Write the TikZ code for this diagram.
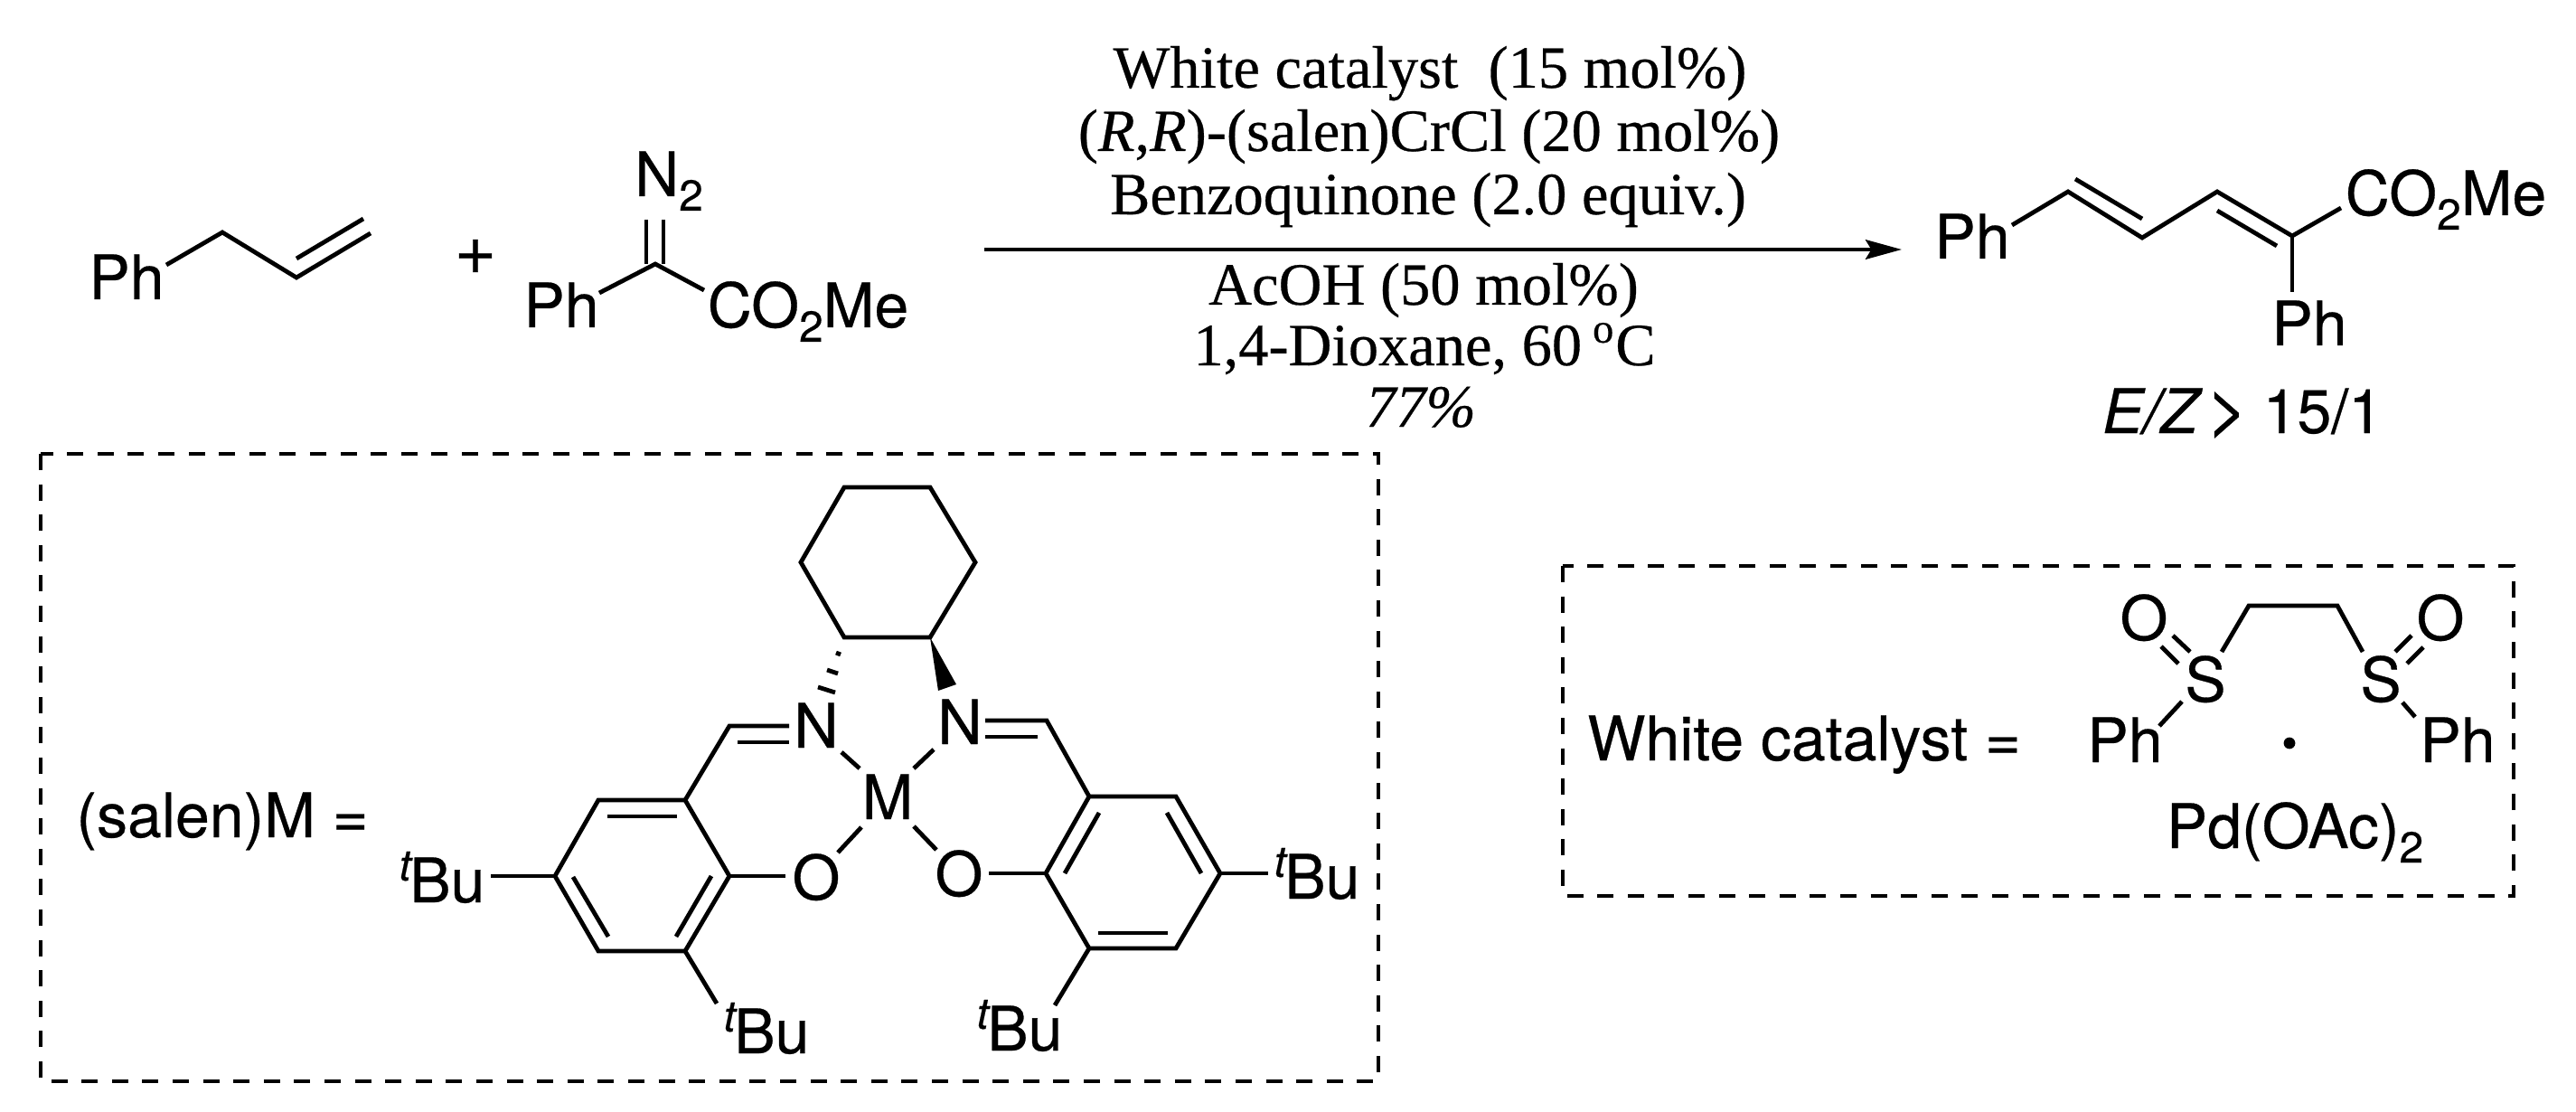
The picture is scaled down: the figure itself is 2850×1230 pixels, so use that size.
\documentclass[tikz,border=0pt]{standalone}
\usepackage{fontspec}
\setmainfont[FakeBold=0.4,ItalicFeatures={FakeBold=0.4}]{Liberation Serif}
\newfontfamily\chemfont[FakeBold=0.4,ItalicFeatures={FakeBold=0.4}]{TeX Gyre Heros}
\usetikzlibrary{arrows.meta}
\newcommand{\subtwo}{\raisebox{-4pt}{\fontsize{12}{12}\selectfont 2}}
\newcommand{\tbu}{\raisebox{6pt}{\fontsize{12}{12}\selectfont\itshape t}\kern-0.4ptBu}
\tikzset{
  atom/.style={inner sep=0pt,anchor=base,font=\chemfont\fontsize{17}{20}\selectfont},
  reagent/.style={inner sep=0pt,anchor=base,font=\fontsize{16.6}{20}\selectfont},
  bond/.style={line width=1.2pt,line join=miter},
  dashbox/.style={line width=1.2pt,dash pattern=on 4.5pt off 3.9pt},
  rxnarrow/.style={line width=1.05pt,-{Stealth[length=10pt,width=5.4pt,inset=1.6pt]}},
}
\begin{document}
\begin{tikzpicture}[x=0.25pt,y=-0.25pt]
  \useasboundingbox (0,0) rectangle (2850,1230);
  % Node: allylbenzene
  \node[atom] (ph1) at (140,331) {Ph};
  \coordinate (ph1end) at (184,293);
  \coordinate (a1) at (246,257);
  \coordinate (a2) at (328,307);
  \coordinate (a3) at (410,258);
  \coordinate (a2in) at (328,286);
  \coordinate (a3in) at (402,242);
  \draw[bond] (ph1end) -- (a1) -- (a2) -- (a3);
  \draw[bond] (a2in) -- (a3in);
  \node[atom,font=\chemfont\fontsize{20}{20}\selectfont] (plus) at (526,303) {+};
  % Node: diazo ester
  \node[atom] (n2) at (740,217) {N\subtwo};
  \node[atom] (ph2) at (621,362) {Ph};
  \node[atom] (ester1) at (894,362) {CO\subtwo Me};
  \coordinate (d0) at (725,292);
  \coordinate (d1) at (715,243);
  \coordinate (d2) at (715,292);
  \coordinate (d3) at (734,243);
  \coordinate (d4) at (734,292);
  \coordinate (d5) at (663,324);
  \coordinate (d6) at (779,321);
  \draw[bond] (d1) -- (d2);
  \draw[bond] (d3) -- (d4);
  \draw[bond] (d5) -- (d0) -- (d6);
  % Edge: arrow and its conditions
  \coordinate (arrowstart) at (1089,276);
  \coordinate (arrowend) at (2104,276);
  \draw[rxnarrow] (arrowstart) -- (arrowend);
  \node[reagent] (top1) at (1582,97) {White catalyst~~(15 mol\%)};
  \node[reagent] (top2) at (1581,167) {(\textit{R},\textit{R})-(salen)CrCl (20 mol\%)};
  \node[reagent] (top3) at (1580,237) {Benzoquinone (2.0 equiv.)};
  \node[reagent] (bot1) at (1575,337) {AcOH (50 mol\%)};
  \node[reagent] (bot2) at (1576,404) {1,4-Dioxane, 60\kern3pt\textsuperscript{o}C};
  \node[reagent] (bot3) at (1572,472) {\textit{77\%}};
  % Node: diene product
  \node[atom] (ph3) at (2182,286) {Ph};
  \node[atom] (ph4) at (2555,382) {Ph};
  \node[atom] (ester2) at (2706,238) {CO\subtwo Me};
  \node[atom] (ratio) at (2481,479) {\textit{E/Z}\kern1pt{\fontsize{20}{20}\selectfont>}\kern4pt15/1};
  \coordinate (p0) at (2226,249);
  \coordinate (p1) at (2288,212);
  \coordinate (p2) at (2370,263);
  \coordinate (p3) at (2453,212);
  \coordinate (p4) at (2536,261);
  \coordinate (p5) at (2590,230);
  \coordinate (p6) at (2536,323);
  \coordinate (p1in) at (2296,198);
  \coordinate (p2in) at (2370,242);
  \coordinate (p3in) at (2453,233);
  \coordinate (p4in) at (2519,272);
  \draw[bond] (p0) -- (p1) -- (p2) -- (p3) -- (p4) -- (p5);
  \draw[bond] (p4) -- (p6);
  \draw[bond] (p1in) -- (p2in);
  \draw[bond] (p3in) -- (p4in);
  % Node: salen box
  \coordinate (box1a) at (45,502);
  \coordinate (box1b) at (1525,1196);
  \draw[dashbox] (box1a) rectangle (box1b);
  \node[atom] (salenlabel) at (246,926) {(salen)M =};
  % cyclohexane
  \coordinate (h1) at (934,539);
  \coordinate (h2) at (1029,539);
  \coordinate (h3) at (1079,622);
  \coordinate (h4) at (1029,705);
  \coordinate (h5) at (934,705);
  \coordinate (h6) at (886,622);
  \draw[bond] (h1) -- (h2) -- (h3) -- (h4) -- (h5) -- (h6) -- cycle;
  % hashed and solid wedge
  \coordinate (w1a) at (925,722);
  \coordinate (w1b) at (930,724);
  \coordinate (w2a) at (915,741);
  \coordinate (w2b) at (927,745);
  \coordinate (w3a) at (905,760);
  \coordinate (w3b) at (924,766);
  \draw[bond] (w1a) -- (w1b);
  \draw[bond] (w2a) -- (w2b);
  \draw[bond] (w3a) -- (w3b);
  \coordinate (w4) at (1038,764);
  \coordinate (w5) at (1058,757);
  \fill (h4) -- (w4) -- (w5) -- cycle;
  \node[atom] (n1) at (903,827) {N};
  \node[atom] (n3) at (1062,823) {N};
  \node[atom] (o1) at (903,995) {O};
  \node[atom] (o2) at (1061,991) {O};
  \node[atom] (metal) at (982,906) {M};
  % left arene
  \coordinate (l1) at (758,885);
  \coordinate (l2) at (662,885);
  \coordinate (l3) at (614,969);
  \coordinate (l4) at (662,1052);
  \coordinate (l5) at (758,1052);
  \coordinate (l6) at (807,969);
  \draw[bond] (l1) -- (l2) -- (l3) -- (l4) -- (l5) -- (l6) -- cycle;
  \coordinate (l1a) at (672,903);
  \coordinate (l1b) at (749,903);
  \coordinate (l2a) at (634,970);
  \coordinate (l2b) at (673,1036);
  \coordinate (l3a) at (787,969);
  \coordinate (l3b) at (748,1036);
  \draw[bond] (l1a) -- (l1b);
  \draw[bond] (l2a) -- (l2b);
  \draw[bond] (l3a) -- (l3b);
  \coordinate (l7) at (807,803);
  \coordinate (l8) at (873,803);
  \coordinate (l9) at (816,821);
  \coordinate (l10) at (873,821);
  \draw[bond] (l1) -- (l7) -- (l8);
  \draw[bond] (l9) -- (l10);
  \coordinate (l11) at (869,969);
  \draw[bond] (l6) -- (l11);
  \coordinate (l12) at (931,832);
  \coordinate (l13) at (951,850);
  \draw[bond] (l12) -- (l13);
  \coordinate (l14) at (953,915);
  \coordinate (l15) at (927,943);
  \draw[bond] (l14) -- (l15);
  \node[atom] (bu1) at (489,998) {\tbu};
  \node[atom] (bu2) at (848,1165) {\tbu};
  \coordinate (l16) at (543,969);
  \coordinate (l17) at (793,1110);
  \draw[bond] (l16) -- (l3);
  \draw[bond] (l5) -- (l17);
  % right arene
  \coordinate (r1) at (1205,881);
  \coordinate (r2) at (1301,881);
  \coordinate (r3) at (1350,966);
  \coordinate (r4) at (1301,1049);
  \coordinate (r5) at (1205,1049);
  \coordinate (r6) at (1157,966);
  \draw[bond] (r1) -- (r2) -- (r3) -- (r4) -- (r5) -- (r6) -- cycle;
  \coordinate (r1a) at (1216,899);
  \coordinate (r1b) at (1178,966);
  \coordinate (r2a) at (1291,899);
  \coordinate (r2b) at (1329,966);
  \coordinate (r3a) at (1215,1032);
  \coordinate (r3b) at (1292,1032);
  \draw[bond] (r1a) -- (r1b);
  \draw[bond] (r2a) -- (r2b);
  \draw[bond] (r3a) -- (r3b);
  \coordinate (r7) at (1158,797);
  \coordinate (r8) at (1090,797);
  \coordinate (r9) at (1148,815);
  \coordinate (r10) at (1090,815);
  \draw[bond] (r1) -- (r7) -- (r8);
  \draw[bond] (r9) -- (r10);
  \coordinate (r11) at (1094,966);
  \draw[bond] (r6) -- (r11);
  \coordinate (r12) at (1011,850);
  \coordinate (r13) at (1033,829);
  \draw[bond] (r12) -- (r13);
  \coordinate (r14) at (1011,914);
  \coordinate (r15) at (1036,940);
  \draw[bond] (r14) -- (r15);
  \node[atom] (bu3) at (1457,994) {\tbu};
  \node[atom] (bu4) at (1128,1162) {\tbu};
  \coordinate (r16) at (1403,966);
  \coordinate (r17) at (1167,1112);
  \draw[bond] (r3) -- (r16);
  \draw[bond] (r5) -- (r17);
  % Node: White catalyst box
  \coordinate (box2a) at (1729,626);
  \coordinate (box2b) at (2781,991);
  \draw[dashbox] (box2a) rectangle (box2b);
  \node[atom] (whitelabel) at (1996,841) {White catalyst =};
  \node[atom] (ph5) at (2351,843) {Ph};
  \node[atom] (ph6) at (2719,843) {Ph};
  \node[atom] (s1) at (2440,776) {S};
  \node[atom] (s2) at (2634,776) {S};
  \node[atom] (o3) at (2372,708) {O};
  \node[atom] (o4) at (2700,708) {O};
  \node[atom] (pd) at (2539,938) {Pd(OAc)\subtwo};
  \node[fill,circle,inner sep=0pt,minimum size=3.2pt] (dot) at (2533,822) {};
  \coordinate (c1) at (2458,721);
  \coordinate (c2) at (2488,670);
  \coordinate (c3) at (2586,670);
  \coordinate (c4) at (2614,721);
  \draw[bond] (c1) -- (c2) -- (c3) -- (c4);
  \coordinate (c5) at (2391,715);
  \coordinate (c6) at (2410,734);
  \coordinate (c7) at (2404,703);
  \coordinate (c8) at (2423,721);
  \draw[bond] (c5) -- (c6);
  \draw[bond] (c7) -- (c8);
  \coordinate (c9) at (2650,721);
  \coordinate (c10) at (2668,703);
  \coordinate (c11) at (2663,734);
  \coordinate (c12) at (2681,716);
  \draw[bond] (c9) -- (c10);
  \draw[bond] (c11) -- (c12);
  \coordinate (c13) at (2414,776);
  \coordinate (c14) at (2389,803);
  \coordinate (c15) at (2658,777);
  \coordinate (c16) at (2672,793);
  \draw[bond] (c13) -- (c14);
  \draw[bond] (c15) -- (c16);
\end{tikzpicture}
\end{document}
